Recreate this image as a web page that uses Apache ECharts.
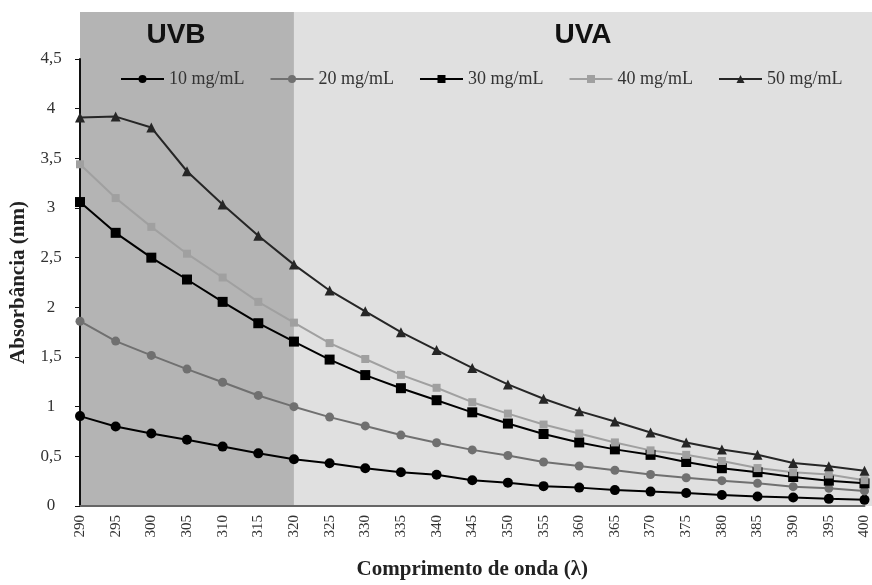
<!DOCTYPE html>
<html><head><meta charset="utf-8">
<script src="https://cdn.jsdelivr.net/npm/echarts@6/dist/echarts.min.js"></script>
<style>html,body{margin:0;padding:0;background:#fff}#c{width:872px;height:585px}</style>
</head><body><div id="c"></div>
<script>
const wavelengths = ['290','295','300','305','310','315','320','325','330','335','340','345','350','355','360','365','370','375','380','385','390','395','400'];
const yTicks = [0, 0.5, 1, 1.5, 2, 2.5, 3, 3.5, 4, 4.5];
const c10 = [0.905,0.80,0.73,0.667,0.598,0.53,0.47,0.43,0.38,0.34,0.315,0.26,0.235,0.20,0.185,0.16,0.145,0.13,0.11,0.096,0.086,0.072,0.062];
const c20 = [1.86,1.66,1.516,1.378,1.246,1.113,1.0,0.895,0.806,0.714,0.637,0.565,0.508,0.443,0.403,0.36,0.317,0.284,0.255,0.228,0.195,0.178,0.152];
const c30 = [3.06,2.75,2.50,2.28,2.055,1.84,1.655,1.474,1.318,1.186,1.065,0.943,0.83,0.725,0.64,0.57,0.515,0.443,0.38,0.34,0.292,0.255,0.228];
const c40 = [3.44,3.10,2.81,2.54,2.30,2.055,1.846,1.64,1.48,1.32,1.19,1.045,0.93,0.82,0.73,0.64,0.56,0.515,0.453,0.382,0.34,0.317,0.26];
const c50 = [3.91,3.92,3.81,3.37,3.035,2.72,2.43,2.17,1.96,1.75,1.57,1.39,1.224,1.08,0.955,0.85,0.74,0.64,0.568,0.515,0.433,0.40,0.354];
const seriesNames = ['10 mg/mL','20 mg/mL','30 mg/mL','40 mg/mL','50 mg/mL'];
const regionNames = ['UVB','UVA'];
const regionBounds = ['290','320','400'];

const serif = 'Liberation Serif';
const chart = echarts.init(document.getElementById('c'), null, {renderer:'canvas'});
function mk(name, data, color, symbol, size){
  return {name, type:'line', data, symbol, symbolSize:size, showSymbol:true,
    lineStyle:{color, width:2}, itemStyle:{color}, z:3};
}
chart.setOption({
  animation:false,
  backgroundColor:'#fff',
  grid:{left:80, right:4, top:59, bottom:72, containLabel:false},
  legend:{top:65, left:115, itemWidth:43, itemHeight:10, itemGap:25,
    textStyle:{fontFamily:serif, fontSize:18, color:'#333'},
    data:seriesNames},
  xAxis:{type:'category', data:wavelengths, boundaryGap:false,
    name:'Comprimento de onda (\u03bb)', nameLocation:'middle', nameGap:53,
    nameTextStyle:{fontFamily:serif, fontWeight:'bold', fontSize:21, color:'#222'},
    axisLine:{lineStyle:{color:'#666', width:2}},
    axisTick:{show:false},
    axisLabel:{rotate:90, margin:9, fontFamily:serif, fontSize:15, color:'#333', interval:0},
    splitLine:{show:false}},
  yAxis:{type:'value', min:yTicks[0], max:yTicks[yTicks.length-1], interval:0.5,
    name:'Absorb\u00e2ncia (nm)', nameLocation:'middle', nameGap:50,
    nameTextStyle:{fontFamily:serif, fontWeight:'bold', fontSize:21, color:'#222'},
    axisLine:{show:true, lineStyle:{color:'#111', width:2}},
    axisTick:{show:true, length:5, lineStyle:{color:'#111'}},
    axisLabel:{margin:29, align:'center', fontFamily:serif, fontSize:17, color:'#333',
      formatter:v=>String(v).replace('.',',')},
    splitLine:{show:false}},
  series:[
    mk(seriesNames[0], c10, '#000000', 'circle', 10),
    mk(seriesNames[1], c20, '#707070', 'circle', 9),
    mk(seriesNames[2], c30, '#000000', 'rect', 10),
    mk(seriesNames[3], c40, '#a0a0a0', 'rect', 8),
    mk(seriesNames[4], c50, '#262626', 'triangle', 10)
  ]
});
const xa = chart.convertToPixel({xAxisIndex:0}, 0);
const xb = chart.convertToPixel({xAxisIndex:0}, wavelengths.indexOf(regionBounds[1]));
const y0 = chart.convertToPixel({yAxisIndex:0}, 0);
const bgTop = 12, bgRight = 872;
chart.setOption({graphic:[
  {type:'rect', z:-10, shape:{x:xa, y:bgTop, width:xb-xa, height:y0-bgTop}, style:{fill:'#b4b4b4'}, silent:true},
  {type:'rect', z:-10, shape:{x:xb, y:bgTop, width:bgRight-xb, height:y0-bgTop}, style:{fill:'#e0e0e0'}, silent:true},
  {type:'text', z:5, x:176, y:35, style:{text:regionNames[0], font:'bold 28px "Liberation Sans"', fill:'#111', align:'center', verticalAlign:'middle'}},
  {type:'text', z:5, x:583, y:35, style:{text:regionNames[1], font:'bold 28px "Liberation Sans"', fill:'#111', align:'center', verticalAlign:'middle'}}
]});
</script></body></html>
